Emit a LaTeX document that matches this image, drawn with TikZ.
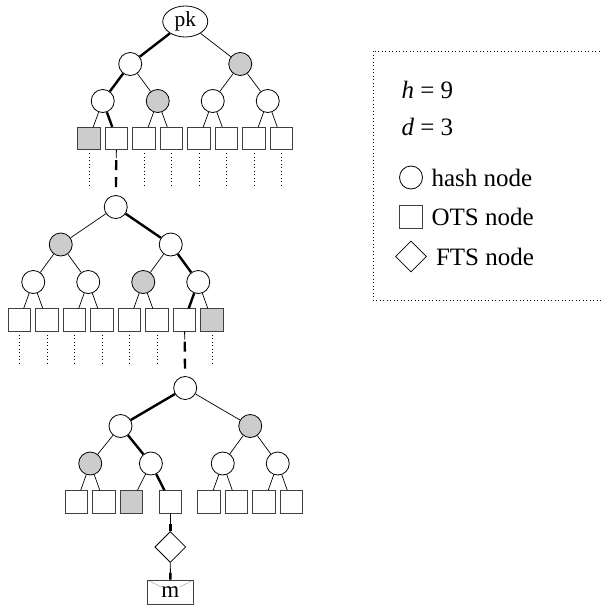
\documentclass[tikz,border=0pt]{standalone}
\usepackage{fontspec}
\setmainfont{Liberation Serif}
\usetikzlibrary{shapes.geometric}
\begin{document}
\begin{tikzpicture}[x=1pt,y=-1pt,
 every node/.style={font=\fontsize{23}{27}\selectfont},
 legtext/.style={anchor=west,font=\fontsize{25}{29}\selectfont},
 hn/.style={circle,draw,line width=0.8pt,minimum size=23pt,inner sep=0pt},
 hg/.style={hn,fill=black!20},
 ots/.style={rectangle,draw=black!75,line width=0.8pt,minimum size=22.5pt,inner sep=0pt},
 og/.style={ots,fill=black!20},
 fts/.style={diamond,draw,line width=0.8pt,minimum width=31pt,minimum height=31pt,inner sep=0pt},
 ed/.style={line width=0.7pt},
 pe/.style={line width=2.4pt},
 dots/.style={line width=0.7pt,dash pattern=on 0.7pt off 2.8pt},
 thinpart/.style={line width=0.8pt,dash pattern=on 8pt off 200pt},
 thickdash/.style={line width=2.4pt,dash pattern=on 0pt off 10pt on 10pt off 7pt on 10pt off 200pt},
 shortlink/.style={line width=0.8pt},
 shortthick/.style={line width=2.4pt,dash pattern=on 0pt off 10pt on 8pt off 200pt},
]
\useasboundingbox (0,0) rectangle (600,605);

% ---------- tree 1 ----------
\node[ellipse,draw,line width=0.8pt,minimum width=45pt,minimum height=31pt,inner sep=0pt,font=\fontsize{21.5}{25}\selectfont] (pk) at (185.25,21.5) {pk};
\node[hn] (a1) at (130.25,64) {};
\node[hg] (a2) at (240.25,64) {};
\node[hn] (a11) at (102.75,101) {};
\node[hg] (a12) at (157.75,101) {};
\node[hn] (a21) at (212.75,101) {};
\node[hn] (a22) at (267.75,101) {};
\node[og]  (a111) at (89,138.5) {};
\node[ots] (a112) at (116.5,138.5) {};
\node[ots] (a121) at (144,138.5) {};
\node[ots] (a122) at (171.5,138.5) {};
\node[ots] (a211) at (199,138.5) {};
\node[ots] (a212) at (226.5,138.5) {};
\node[ots] (a221) at (254,138.5) {};
\node[ots] (a222) at (281.5,138.5) {};
\draw[pe] (pk) -- (a1);
\draw[ed] (pk) -- (a2);
\draw[pe] (a1) -- (a11);
\draw[ed] (a1) -- (a12);
\draw[ed] (a2) -- (a21);
\draw[ed] (a2) -- (a22);
\draw[ed] (a11) -- (a111);
\draw[pe] (a11) -- (a112);
\draw[ed] (a12) -- (a121);
\draw[ed] (a12) -- (a122);
\draw[ed] (a21) -- (a211);
\draw[ed] (a21) -- (a212);
\draw[ed] (a22) -- (a221);
\draw[ed] (a22) -- (a222);
\foreach \n/\x in {a111/89,a121/144,a122/171.5,a211/199,a212/226.5,a221/254,a222/281.5}{
  \coordinate (d\n) at (\x,185);
  \draw[dots,shorten <=3pt] (\n) -- (d\n);
}

% ---------- tree 2 ----------
\node[hn] (b) at (115.75,207) {};
\node[hg] (b1) at (60.75,244.5) {};
\node[hn] (b2) at (170.75,244.5) {};
\node[hn] (b11) at (33.25,282) {};
\node[hn] (b12) at (88.25,282) {};
\node[hg] (b21) at (143.25,282) {};
\node[hn] (b22) at (198.25,282) {};
\node[ots] (b111) at (19.5,320) {};
\node[ots] (b112) at (47,320) {};
\node[ots] (b121) at (74.5,320) {};
\node[ots] (b122) at (102,320) {};
\node[ots] (b211) at (129.5,320) {};
\node[ots] (b212) at (157,320) {};
\node[ots] (b221) at (184.5,320) {};
\node[og]  (b222) at (212,320) {};
\draw[thinpart] (a112) -- (b);
\draw[thickdash] (a112) -- (b);
\draw[ed] (b) -- (b1);
\draw[pe] (b) -- (b2);
\draw[ed] (b1) -- (b11);
\draw[ed] (b1) -- (b12);
\draw[ed] (b2) -- (b21);
\draw[pe] (b2) -- (b22);
\draw[ed] (b11) -- (b111);
\draw[ed] (b11) -- (b112);
\draw[ed] (b12) -- (b121);
\draw[ed] (b12) -- (b122);
\draw[ed] (b21) -- (b211);
\draw[ed] (b21) -- (b212);
\draw[pe] (b22) -- (b221);
\draw[ed] (b22) -- (b222);
\foreach \n/\x in {b111/19.5,b112/47,b121/74.5,b122/102,b211/129.5,b212/157,b222/212}{
  \coordinate (d\n) at (\x,366);
  \draw[dots,shorten <=3pt] (\n) -- (d\n);
}

% ---------- tree 3 ----------
\node[hn] (c) at (185.2,388) {};
\node[hn] (c1) at (120.5,426) {};
\node[hg] (c2) at (250.25,426) {};
\node[hg] (c11) at (90.25,463.5) {};
\node[hn] (c12) at (150.9,463.5) {};
\node[hn] (c21) at (222.75,463.5) {};
\node[hn] (c22) at (277.75,463.5) {};
\node[ots] (c111) at (76.5,502) {};
\node[ots] (c112) at (104,502) {};
\node[og]  (c121) at (131.5,502) {};
\node[ots] (c122) at (170.3,502) {};
\node[ots] (c211) at (209,502) {};
\node[ots] (c212) at (236.5,502) {};
\node[ots] (c221) at (264,502) {};
\node[ots] (c222) at (291.5,502) {};
\draw[thinpart] (b221) -- (c);
\draw[thickdash] (b221) -- (c);
\draw[pe] (c) -- (c1);
\draw[ed] (c) -- (c2);
\draw[ed] (c1) -- (c11);
\draw[pe] (c1) -- (c12);
\draw[ed] (c2) -- (c21);
\draw[ed] (c2) -- (c22);
\draw[ed] (c11) -- (c111);
\draw[ed] (c11) -- (c112);
\draw[ed] (c12) -- (c121);
\draw[pe] (c12) -- (c122);
\draw[ed] (c21) -- (c211);
\draw[ed] (c21) -- (c212);
\draw[ed] (c22) -- (c221);
\draw[ed] (c22) -- (c222);

% ---------- FTS and message ----------
\node[fts] (f) at (170.3,547) {};
\node[rectangle,draw=black!75,line width=0.8pt,minimum width=45.5pt,minimum height=24pt,inner sep=0pt,
  path picture={\draw[black!30,line width=0.6pt] (path picture bounding box.north west) -- (path picture bounding box.center) -- (path picture bounding box.north east);}] (m) at (170.4,592) {};
\node[fill=white,inner sep=0.6pt] (mt) at (m.center) {m};
\draw[shortlink] (c122) -- (f);
\draw[shortthick] (c122) -- (f);
\draw[shortlink] (f) -- (m);
\draw[shortthick] (f) -- (m);

% ---------- legend ----------
\draw[dots] (373,51) rectangle (603,300);
\node[legtext] (lh) at (398,90) {\textit{h} = 9};
\node[legtext] (ld) at (398,127) {\textit{d} = 3};
\node[hn] (lc) at (411,177.5) {};
\node[legtext] (lct) at (428,177.5) {hash node};
\node[ots] (ls) at (411,217) {};
\node[legtext] (lst) at (428,217) {OTS node};
\node[fts] (lf) at (411,256.5) {};
\node[legtext] (lft) at (432.5,256.5) {FTS node};
\end{tikzpicture}
\end{document}
